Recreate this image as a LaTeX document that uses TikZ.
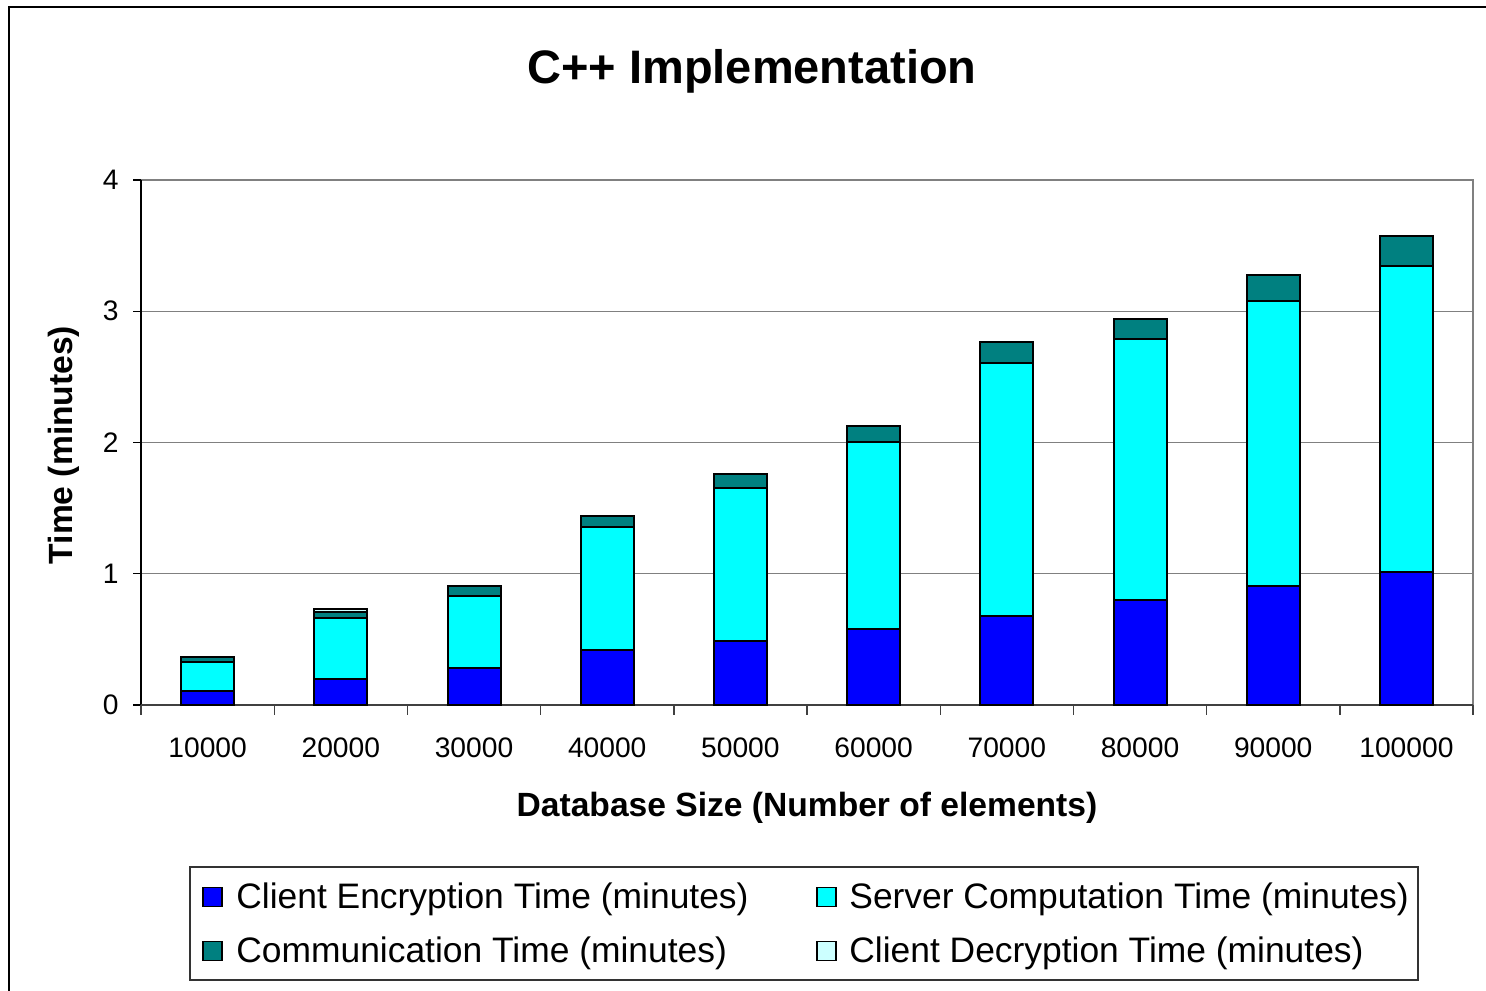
\documentclass[tikz,border=0pt]{standalone}
\usepackage{fontspec}
\setmainfont{Liberation Sans}
\usepackage{tikz}
\definecolor{EncBlue}{RGB}{0,0,255}
\definecolor{SrvCyan}{RGB}{0,255,255}
\definecolor{ComTeal}{RGB}{0,128,128}
\definecolor{DecCyan}{RGB}{204,255,255}
\definecolor{GridGray}{RGB}{128,128,128}
\usetikzlibrary{positioning,calc}

\begin{document}
\begin{tikzpicture}[x=0.5pt, y=-0.5pt,
    seg/.style={draw=black, line width=1pt},
    gridln/.style={draw=GridGray, line width=0.6pt},
    ticklab/.style={font=\fontsize{14.1}{16}\selectfont, inner sep=0pt},
    axtitle/.style={font=\fontsize{16.8}{19}\selectfont\bfseries, inner sep=0pt},
    key/.style={draw=black, line width=0.8pt, minimum size=9.5pt, inner sep=0pt},
    keylab/.style={font=\fontsize{17.7}{20}\selectfont, inner sep=0pt, anchor=west}
]
    \useasboundingbox (0,0) rectangle (1486,990);
    % outer chart frame (cut off right and bottom)
    \draw[line width=0.8pt] (9,1000) -- (9,7) -- (1500,7);

    \node[font=\fontsize{23.5}{28}\selectfont\bfseries, inner sep=0pt] (title) at (752,71) {C++ Implementation};

    % plot area, grid and axes
    \foreach \v in {1,2,3}
        \draw[gridln] (141,{705-131.25*\v}) -- (1473,{705-131.25*\v});
    \draw[draw=GridGray, line width=1pt] (141,180) -- (1473,180) -- (1473,705);
    \draw[line width=0.7pt] (141,180) -- (141,705);
    \draw[draw=black!75, line width=0.9pt] (141,705) -- (1473,705);
    \foreach \v in {0,...,4} {
        \draw[line width=0.7pt] (133,{705-131.25*\v}) -- (141,{705-131.25*\v});
        \node[ticklab, anchor=east] (yl\v) at (119,{705-131.25*\v}) {\v};
    }
    \foreach \k in {0,...,10}
        \draw[draw=black!75, line width=0.7pt] ({141+133.2*\k},705) -- ({141+133.2*\k},715);

    % stacked bars: enc top / srv top / com top / dec top
    \foreach \i/\lab/\e/\s/\c/\d in {1/10000/0.107/0.330/0.366/0.366,
                                    2/20000/0.196/0.662/0.707/0.728,
                                    3/30000/0.280/0.834/0.908/0.908,
                                    4/40000/0.420/1.357/1.443/1.443,
                                    5/50000/0.489/1.654/1.761/1.761,
                                    6/60000/0.578/2.002/2.124/2.124,
                                    7/70000/0.679/2.608/2.769/2.769,
                                    8/80000/0.800/2.786/2.944/2.944,
                                    9/90000/0.908/3.079/3.275/3.275,
                                    10/100000/1.013/3.341/3.570/3.570} {
        \pgfmathsetmacro\xc{141+133.2*(\i-0.5)}
        \draw[seg, fill=EncBlue] (\xc-26.5,705) rectangle (\xc+26.5,{705-131.25*\e});
        \draw[seg, fill=SrvCyan] (\xc-26.5,{705-131.25*\e}) rectangle (\xc+26.5,{705-131.25*\s});
        \draw[seg, fill=ComTeal] (\xc-26.5,{705-131.25*\s}) rectangle (\xc+26.5,{705-131.25*\c});
        \draw[seg, fill=DecCyan] (\xc-26.5,{705-131.25*\c}) rectangle (\xc+26.5,{705-131.25*\d});
        \node[ticklab] (xl\i) at (\xc,748) {\lab};
    }

    \node[axtitle] (xtitle) at (807,808) {Database Size (Number of elements)};
    \node[axtitle, rotate=90] (ytitle) at (64,445) {Time (minutes)};

    % legend
    \node[draw=black!80, line width=0.8pt, minimum width=614pt, minimum height=56.5pt, inner sep=0pt] (legend) at (804,923.5) {};
    \node[key, fill=EncBlue] (kenc) at (212.5,897) {};
    \node[keylab] (lenc) at (236,899) {Client Encryption Time (minutes)};
    \node[key, fill=SrvCyan] (ksrv) at (826.5,897) {};
    \node[keylab] (lsrv) at (849,899) {Server Computation Time (minutes)};
    \node[key, fill=ComTeal] (kcom) at (212.5,951) {};
    \node[keylab] (lcom) at (236,953) {Communication Time (minutes)};
    \node[key, fill=DecCyan] (kdec) at (826.5,951) {};
    \node[keylab] (ldec) at (849,953) {Client Decryption Time (minutes)};
\end{tikzpicture}
\end{document}
